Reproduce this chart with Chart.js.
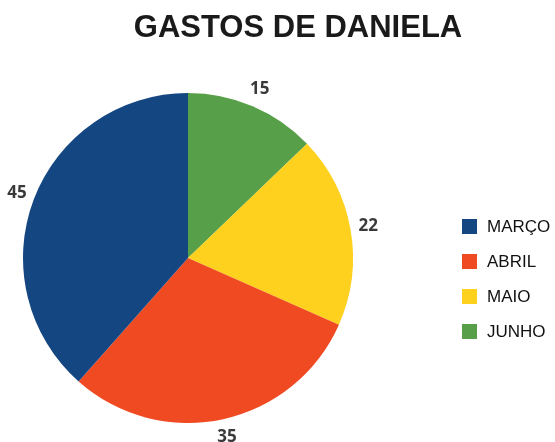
<!DOCTYPE html>
<html lang="pt">
<head>
    <meta charset="UTF-8" />
    <title>Gastos de Daniela</title>
    <script src="https://cdn.jsdelivr.net/npm/chart.js"></script>
    <style>
        body {
            margin: 0;
            padding: 0;
            background: #ffffff;
        }

        .wrap {
            position: relative;
            width: 555px;
            height: 442px;
        }

        .titulo {
            position: absolute;
            left: 0;
            top: 11px;
            width: 596px;
            text-align: center;
            font-family: "Liberation Sans", Arial, sans-serif;
            font-weight: bold;
            font-size: 31px;
            line-height: 31px;
            color: #1a1a1a;
            margin: 0;
        }

        .legenda {
            position: absolute;
            left: 462px;
            top: 219px;
            font-family: "Liberation Sans", Arial, sans-serif;
            font-size: 17px;
            color: #111;
        }

        .legenda div {
            display: flex;
            align-items: center;
            height: 15px;
            margin-bottom: 20px;
        }

        .legenda span.box {
            display: inline-block;
            width: 15px;
            height: 15px;
            margin-right: 10px;
        }
    </style>
</head>
<body>
    <div class="wrap">
        <canvas id="pieChart"></canvas>
        <h1 class="titulo">GASTOS DE DANIELA</h1>
        <div class="legenda" id="legenda"></div>
    </div>

    <script>
        const months = ['MARÇO', 'ABRIL', 'MAIO', 'JUNHO'];
        const spending = [45, 35, 22, 15];
        const colors = ['#144682', '#f04a23', '#fdd11e', '#57a049'];

        // the original goes clockwise from the top starting with JUNHO
        const order = [3, 2, 1, 0];

        const valueLabels = {
            id: 'valueLabels',
            afterDatasetsDraw(chart) {
                const ctx = chart.ctx;
                const meta = chart.getDatasetMeta(0);
                ctx.save();
                ctx.font = 'bold 17px "Open Sans", sans-serif';
                ctx.fillStyle = '#3a3a3a';
                ctx.textAlign = 'center';
                ctx.textBaseline = 'middle';
                meta.data.forEach((arc, i) => {
                    const p = arc.getProps(['x', 'y', 'startAngle', 'endAngle', 'outerRadius'], true);
                    const mid = (p.startAngle + p.endAngle) / 2;
                    const r = p.outerRadius + 18;
                    ctx.fillText(chart.data.datasets[0].data[i], p.x + Math.cos(mid) * r, p.y + Math.sin(mid) * r);
                });
                ctx.restore();
            }
        };

        const ctx = document.getElementById('pieChart').getContext('2d');

        const pieChart = new Chart(ctx, {
            type: 'pie',
            data: {
                labels: order.map(i => months[i]),
                datasets: [{
                    data: order.map(i => spending[i]),
                    backgroundColor: order.map(i => colors[i]),
                    borderWidth: 0
                }]
            },
            options: {
                responsive: true,
                maintainAspectRatio: false,
                animation: false,
                layout: {
                    padding: { left: 23, right: 202, top: 93, bottom: 19 }
                },
                plugins: {
                    legend: { display: false },
                    tooltip: { enabled: false }
                }
            },
            plugins: [valueLabels]
        });

        // legend in the original order
        const legenda = document.getElementById('legenda');
        months.forEach((m, i) => {
            const row = document.createElement('div');
            row.innerHTML = '<span class="box" style="background:' + colors[i] + '"></span>' + m;
            legenda.appendChild(row);
        });
    </script>
</body>
</html>
